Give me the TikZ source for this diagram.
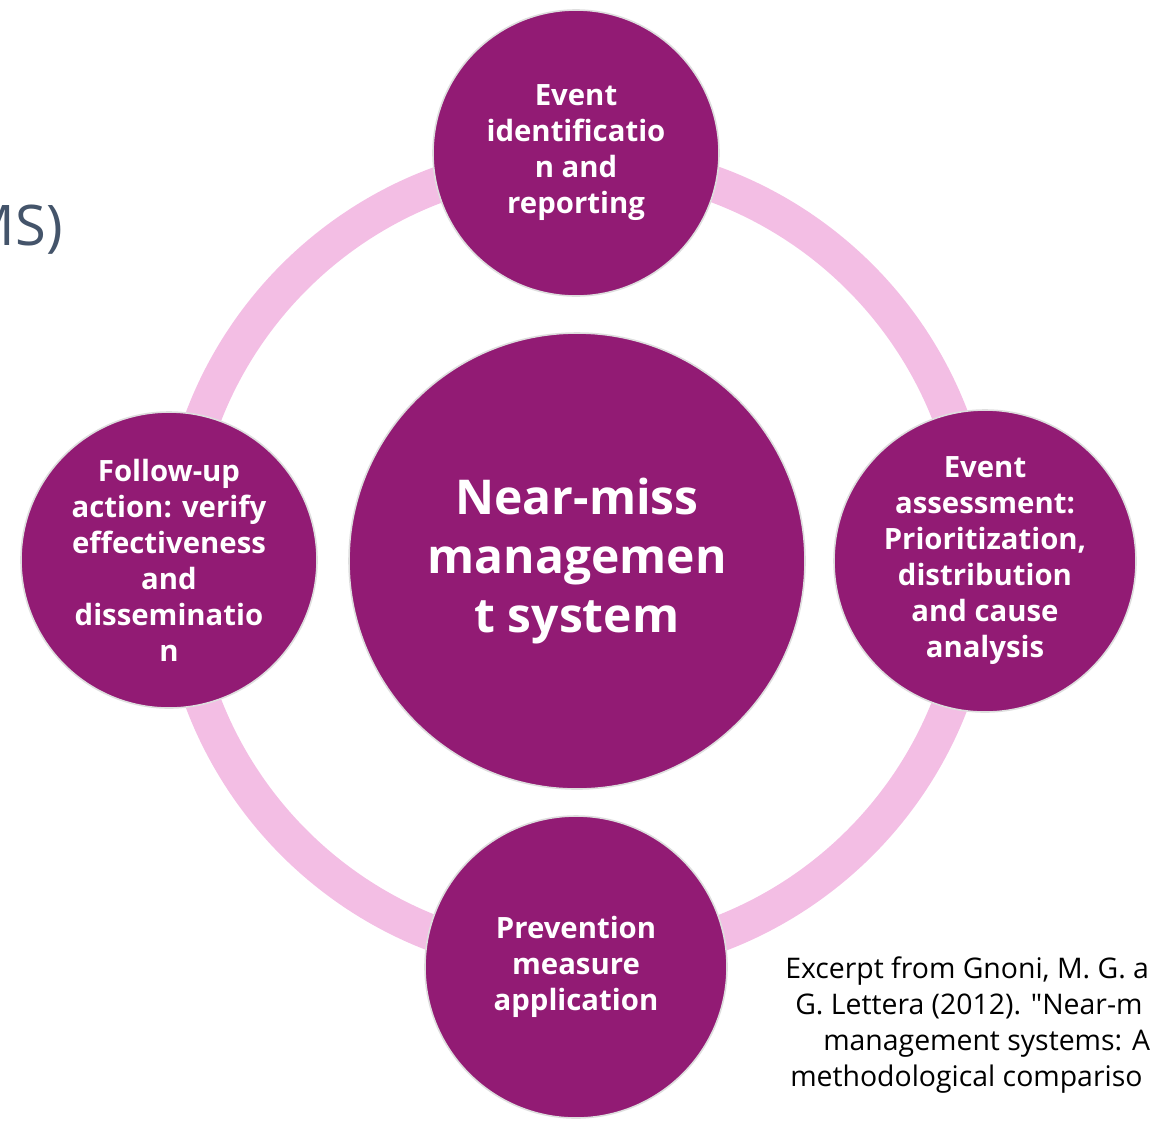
\documentclass[tikz,border=0pt]{standalone}
\usepackage{fontspec}
\setmainfont{Open Sans}[Ligatures=TeXOff]
\usepackage{tikz}

\definecolor{nmpurple}{RGB}{146,27,116}
\definecolor{nmpink}{RGB}{243,190,228}
\definecolor{nmrim}{RGB}{222,222,222}
\definecolor{nmslate}{RGB}{68,84,106}

\tikzset{
	stage/.style={shape=circle,draw=nmrim,line width=1.2pt,fill=nmpurple,text=white,inner sep=0pt,align=center,font=\fontsize{22}{27}\selectfont\bfseries},
	hub/.style={stage,font=\fontsize{36}{44.5}\selectfont\bfseries},
	ring/.style={draw=nmpink,line width=27pt},
	cite/.style={anchor=base west,inner sep=0pt,font=\fontsize{21.3}{27}\selectfont}
}

\begin{document}
\begin{tikzpicture}[x=0.75pt,y=-0.75pt]
	
	\useasboundingbox (0,0) rectangle (1151,1122);
	\clip (0,0) rectangle (1151,1122);
	
	\node[anchor=base east,inner sep=0pt,text=nmslate,font=\fontsize{42}{50}\selectfont] (title) at (63,245) {MS)};
	
	\coordinate (mid) at (577,560);
	\draw[ring] (mid) circle (400);
	
	\node[hub,minimum size=456*0.75pt] (nm) at (577,561) {Near-miss\\managemen\\t system};
	
	\node[stage,minimum size=286*0.75pt] (top) at (576,153) {Event\\identificatio\\n and\\reporting};
	\node[stage,minimum size=302*0.75pt] (right) at (985,561) {Event\\assessment:\\Prioritization,\\distribution\\and cause\\analysis};
	\node[stage,minimum size=302*0.75pt] (bottom) at (576,967) {Prevention\\measure\\application};
	\node[stage,minimum size=296*0.75pt] (left) at (169,560) {Follow-up\\action: verify\\effectiveness\\and\\disseminatio\\n};
	
	\node[cite] (c1) at (785,978) {Excerpt from Gnoni, M. G. a};
	\node[cite] (c2) at (795,1014) {G. Lettera (2012). "Near-m};
	\node[cite] (c3) at (823,1050) {management systems: A};
	\node[cite] (c4) at (790,1086) {methodological compariso};
	
\end{tikzpicture}
\end{document}
